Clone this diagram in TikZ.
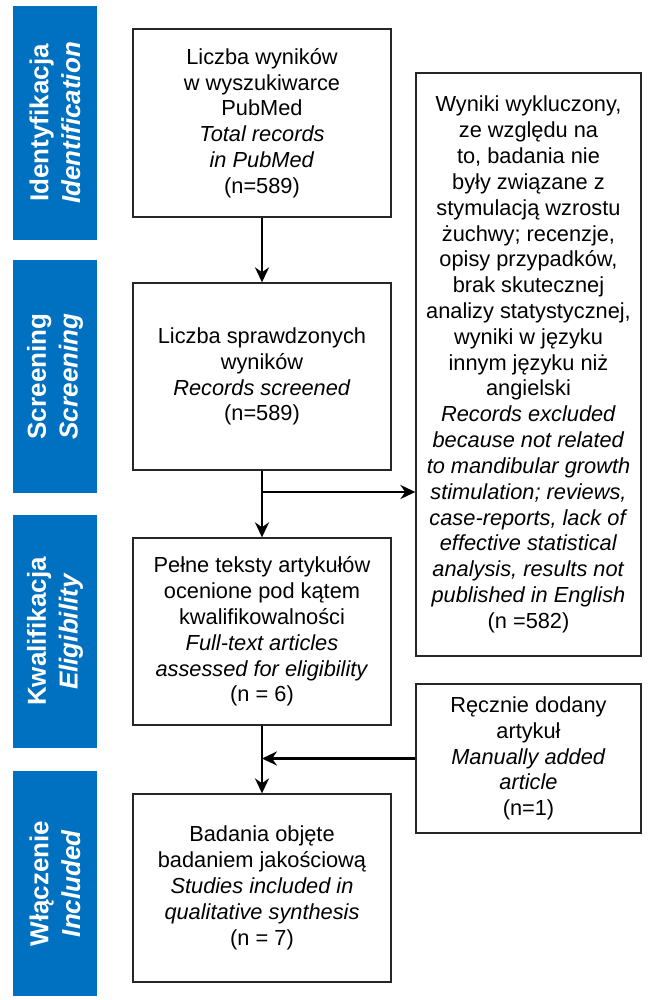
\documentclass[tikz,border=0pt]{standalone}
\usepackage{fontspec}
\setmainfont{Liberation Sans}
\usetikzlibrary{arrows.meta}
\definecolor{stageblue}{HTML}{0070C0}

\begin{document}
\begin{tikzpicture}[x=0.02cm, y=-0.02cm, >={Stealth[length=8.5pt,width=8pt]},
	box/.style={draw=black!85, line width=0.8pt, align=center, inner sep=0pt, font=\fontsize{12.4}{14.7}\selectfont},
	stage/.style={fill=stageblue, text=white, rotate=90, align=center, minimum height=1.68cm, inner sep=0pt, font=\fontsize{14.8}{18}\selectfont\bfseries},
	flow/.style={->, line width=1.3pt}]
		\useasboundingbox (0,0) rectangle (652,1000);
		\node[stage, minimum width=4.68cm] (stid) at (55,123) {Identyfikacja\\\textit{Identification}};
		\node[stage, minimum width=4.66cm] (stscr) at (55,376.5) {Screening\\\textit{Screening}};
		\node[stage, minimum width=4.66cm] (stelig) at (55,631.5) {Kwalifikacja\\\textit{Eligibility}};
		\node[stage, minimum width=4.5cm] (stincl) at (55,883.5) {Włączenie\\\textit{Included}};
		\node[box, minimum width=5.16cm, minimum height=3.76cm] (pub) at (262,123) {Liczba wyników\\w wyszukiwarce\\PubMed\\\textit{Total records}\\\textit{in PubMed}\\(n=589)};
		\node[box, minimum width=5.16cm, minimum height=3.74cm] (scr) at (262,376.5) {Liczba sprawdzonych\\wyników\\\textit{Records screened}\\(n=589)};
		\node[box, minimum width=5.16cm, minimum height=3.74cm] (elig) at (262,631.5) {Pełne teksty artykułów\\ocenione pod kątem\\kwalifikowalności\\\textit{Full-text articles}\\\textit{assessed for eligibility}\\(n = 6)};
		\node[box, minimum width=5.16cm, minimum height=3.76cm] (incl) at (262,888) {Badania objęte\\badaniem jakościową\\\textit{Studies included in}\\\textit{qualitative synthesis}\\(n = 7)};
		\node[box, minimum width=4.5cm, minimum height=11.66cm] (excl) at (528.5,364.5) {Wyniki wykluczony,\\ze względu na\\to, badania nie\\były związane z\\stymulacją wzrostu\\żuchwy; recenzje,\\opisy przypadków,\\brak skutecznej\\analizy statystycznej,\\wyniki w języku\\innym języku niż\\angielski\\\textit{Records excluded}\\\textit{because not related}\\\textit{to mandibular growth}\\\textit{stimulation; reviews,}\\\textit{case-reports, lack of}\\\textit{effective statistical}\\\textit{analysis, results not}\\\textit{published in English}\\(n =582)};
		\node[box, minimum width=4.5cm, minimum height=2.98cm] (man) at (528.5,758.5) {Ręcznie dodany\\artykuł\\\textit{Manually added}\\\textit{article}\\(n=1)};
		\coordinate (split) at (262,492);
		\draw[flow] (pub) -- (scr);
		\draw[flow] (scr) -- (elig);
		\draw[flow] (split) -- (split -| excl.west);
		\draw[flow] (elig) -- (incl);
		\draw[flow] (man.west) -- (man.west -| elig.south);
\end{tikzpicture}
\end{document}
